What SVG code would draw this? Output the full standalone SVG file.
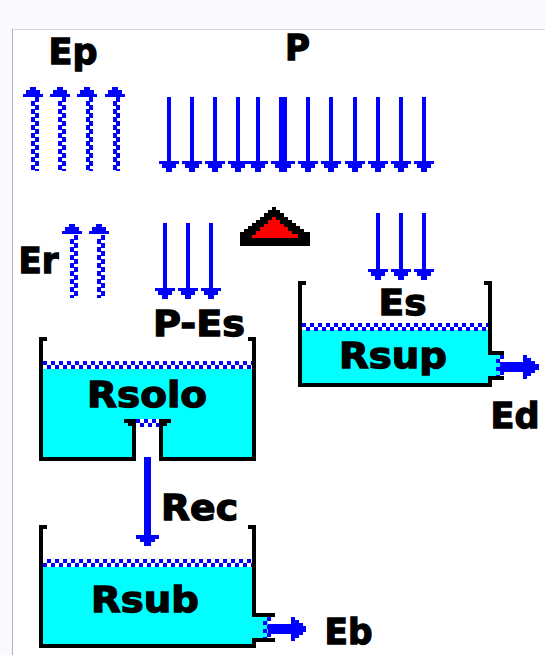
<svg xmlns="http://www.w3.org/2000/svg" width="545" height="655" viewBox="0 0 545 655">
<style>
text{font-family:"DejaVu Sans","Liberation Sans",sans-serif;font-weight:700;font-size:36px;fill:#000;stroke:#000;stroke-width:1.300;stroke-linejoin:miter}
.wall{fill:none;stroke:#000;stroke-width:4;shape-rendering:crispEdges}
.water{fill:#0ff;shape-rendering:crispEdges}
.chk{stroke:#00f;stroke-width:4;stroke-dasharray:5 3;shape-rendering:crispEdges;fill:none}
.lvl{stroke:#00f;stroke-width:4;stroke-dasharray:4 4;shape-rendering:crispEdges;fill:none}
.rain{stroke:#00f;stroke-width:4;shape-rendering:crispEdges;marker-end:url(#down)}
.blue{fill:#00f;shape-rendering:crispEdges}
</style>
<defs>
<marker id="down" markerUnits="userSpaceOnUse" markerWidth="20" markerHeight="11" refX="0" refY="0" overflow="visible"><path class="blue" d="M-10 0H10V3H7V7H3V11H-3V7H-7V3H-10Z"/></marker>
<marker id="downThick" markerUnits="userSpaceOnUse" markerWidth="24" markerHeight="11" refX="0" refY="0" overflow="visible"><path class="blue" d="M-12 0H12V3H8V7H4V11H-4V7H-8V3H-12Z"/></marker>
<marker id="downRec" markerUnits="userSpaceOnUse" markerWidth="24" markerHeight="11" refX="0" refY="0" overflow="visible"><path class="blue" d="M-11.500 0H11.500V4H7.500V7H3.500V11H-3.500V7H-7.500V4H-11.500Z"/></marker>
<path id="up" class="blue" d="M-10 10H10V7H7V3H3V0H-3V3H-7V7H-10Z"/>
</defs>
<rect width="545" height="655" fill="#f9fafd"/>
<rect x="12" y="29" width="533" height="626" fill="#fff"/>
<path d="M12 29.500H545" stroke="#d8d8d8" fill="none"/>
<path d="M12.500 29V655" stroke="#b4b4b4" fill="none"/>

<g id="rsolo">
<rect class="water" x="43" y="369" width="209" height="88"/>
<rect x="136" y="419" width="23" height="42" fill="#fff"/>
<path class="lvl" d="M43 363H252M47 367H252"/>
<path class="lvl" d="M136 421H159M140 424.500H159"/>
<path class="wall" d="M47 339H41V459H134V421H124M171 421H161V459H254V339H248"/>
<rect x="128" y="423" width="4" height="3" fill="#000"/><rect x="163" y="423" width="4" height="3" fill="#000"/>
</g>

<g id="connectors">
<g id="p-rain">
<line class="rain" x1="169" y1="97" x2="169" y2="161"/>
<line class="rain" x1="192" y1="97" x2="192" y2="161"/>
<line class="rain" x1="215" y1="97" x2="215" y2="161"/>
<line class="rain" x1="238" y1="97" x2="238" y2="161"/>
<line class="rain" x1="258" y1="97" x2="258" y2="161"/>
<line x1="283" y1="97" x2="283" y2="161" stroke="#00f" stroke-width="8" shape-rendering="crispEdges" marker-end="url(#downThick)"/>
<line class="rain" x1="308" y1="97" x2="308" y2="161"/>
<line class="rain" x1="331" y1="97" x2="331" y2="161"/>
<line class="rain" x1="355" y1="97" x2="355" y2="161"/>
<line class="rain" x1="378" y1="97" x2="378" y2="161"/>
<line class="rain" x1="401" y1="97" x2="401" y2="161"/>
<line class="rain" x1="424" y1="97" x2="424" y2="161"/>
</g>
<g id="p-es-rain">
<line class="rain" x1="165" y1="223" x2="165" y2="288"/>
<line class="rain" x1="188" y1="223" x2="188" y2="288"/>
<line class="rain" x1="211" y1="223" x2="211" y2="288"/>
</g>
<g id="es-rain">
<line class="rain" x1="378" y1="213" x2="378" y2="269"/>
<line class="rain" x1="401" y1="213" x2="401" y2="269"/>
<line class="rain" x1="424" y1="213" x2="424" y2="269"/>
</g>
<g id="ep-arrows">
<use href="#up" x="33" y="87"/><path class="chk" d="M37 97V171M33 101V171"/>
<use href="#up" x="60" y="87"/><path class="chk" d="M64 97V171M60 101V171"/>
<use href="#up" x="87" y="87"/><path class="chk" d="M91 97V171M88 101V171"/>
<use href="#up" x="115" y="87"/><path class="chk" d="M118 97V171M115 101V171"/>
</g>
<g id="er-arrows">
<use href="#up" x="72" y="224"/><path class="chk" d="M76 235V298M72 239V298"/>
<use href="#up" x="99" y="224"/><path class="chk" d="M103 235V298M99 239V298"/>
</g>
<line id="rec-arrow" x1="147.500" y1="457" x2="147.500" y2="535" stroke="#00f" stroke-width="7" shape-rendering="crispEdges" marker-end="url(#downRec)"/>
<path id="ed-arrow" class="blue" d="M500 362H523V355H527V358H531V361H535V364H539V370H535V373H531V376H527V379H523V372H500Z"/>
<path id="eb-arrow" class="blue" d="M268 624H291V617H295V620H299V623H303V626H306V632H303V635H299V638H295V641H291V634H268Z"/>
</g>

<g id="sun">
<path fill="#000" shape-rendering="crispEdges" d="M240 246V232H244V229H248V226H252V223H256V220H260V217H264V213H268V210H272V207H276V210H280V213H284V217H288V220H292V223H296V226H300V229H304V232H310V246Z"/>
<path fill="#f00" shape-rendering="crispEdges" d="M252 238V235H256V231H260V227H264V224H268V220H272V217H276V220H280V224H284V227H288V231H292V234H298V238Z"/>
</g>

<g id="rsup">
<rect class="water" x="302" y="330" width="186" height="53"/>
<rect class="water" x="488" y="354" width="12" height="22"/>
<path class="lvl" d="M302 325H488M306 328.500H488"/>
<path class="lvl" d="M502 355V376M498 359V376"/>
<path class="wall" d="M306 283H300V385H490V378H504M484 283H490V353H504"/>
</g>

<g id="rsub">
<rect class="water" x="43" y="567" width="209" height="77"/>
<rect class="water" x="252" y="617" width="16" height="21"/>
<path class="lvl" d="M47 561H252M43 565H252"/>
<path class="lvl" d="M269 617V638M265 621V638"/>
<path class="wall" d="M47 527H41V646H254V640H275M248 527H254V615H275"/>
</g>

<g id="labels">
<text x="48.500" y="63.500" textLength="49" lengthAdjust="spacingAndGlyphs">Ep</text>
<text x="285" y="59.500" textLength="25" lengthAdjust="spacingAndGlyphs">P</text>
<text x="18.500" y="272.500" textLength="40" lengthAdjust="spacingAndGlyphs">Er</text>
<text x="153" y="335.500" textLength="92" lengthAdjust="spacingAndGlyphs">P-Es</text>
<text x="378.500" y="314.500" textLength="48" lengthAdjust="spacingAndGlyphs">Es</text>
<text x="339" y="367.500" textLength="108" lengthAdjust="spacingAndGlyphs">Rsup</text>
<text x="490.500" y="427.500" textLength="49" lengthAdjust="spacingAndGlyphs">Ed</text>
<text x="87" y="406.500" textLength="120" lengthAdjust="spacingAndGlyphs">Rsolo</text>
<text x="161" y="519.500" textLength="77" lengthAdjust="spacingAndGlyphs">Rec</text>
<text x="91" y="611.500" textLength="108" lengthAdjust="spacingAndGlyphs">Rsub</text>
<text x="324.500" y="643.500" textLength="48" lengthAdjust="spacingAndGlyphs">Eb</text>
</g>
</svg>
